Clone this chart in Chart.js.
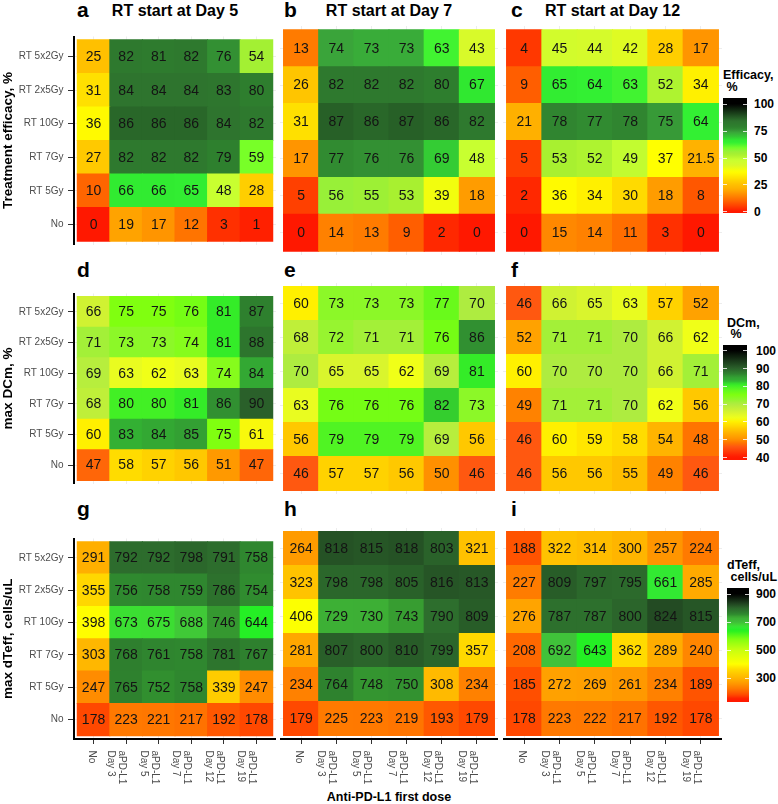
<!DOCTYPE html>
<html><head><meta charset="utf-8">
<script src="https://cdn.jsdelivr.net/npm/chart.js@4.4.0/dist/chart.umd.min.js"></script>
<style>
html,body{margin:0;padding:0;background:#fff;}
#wrap{position:relative;width:778px;height:804px;overflow:hidden;font-family:"Liberation Sans",Arial,sans-serif;}
canvas{position:absolute;}
.t{position:absolute;white-space:pre;color:#000;font-weight:bold;}
.bar,.tk{position:absolute;}
</style></head><body><div id="wrap"></div>
<script>
// ---------- data ----------
const rowLabels = ['RT 5x2Gy','RT 2x5Gy','RT 10Gy','RT 7Gy','RT 5Gy','No']; // top to bottom
const colLabels = [['No'],['aPD-L1','Day 3'],['aPD-L1','Day 5'],['aPD-L1','Day 7'],['aPD-L1','Day 12'],['aPD-L1','Day 19']];
const columnTitles = ['RT start at Day 5','RT start at Day 7','RT start at Day 12'];
const panelLetters = ['a','b','c','d','e','f','g','h','i'];
const metricTitles = ['Treatment efficacy, %','max DCm, %','max dTeff, cells/uL'];
const legendTitles = [['Efficacy,',' %'],['DCm,',' %'],['dTeff,',' cells/uL']];
const xAxisTitle = 'Anti-PD-L1 first dose';

const efficacyDay5  = [[25,82,81,82,76,54],[31,84,84,84,83,80],[36,86,86,86,84,82],[27,82,82,82,79,59],[10,66,66,65,48,28],[0,19,17,12,3,1]];
const efficacyDay7  = [[13,74,73,73,63,43],[26,82,82,82,80,67],[31,87,86,87,86,82],[17,77,76,76,69,48],[5,56,55,53,39,18],[0,14,13,9,2,0]];
const efficacyDay12 = [[4,45,44,42,28,17],[9,65,64,63,52,34],[21,78,77,78,75,64],[5,53,52,49,37,21.5],[2,36,34,30,18,8],[0,15,14,11,3,0]];
const dcmDay5  = [[66,75,75,76,81,87],[71,73,73,74,81,88],[69,63,62,63,74,84],[68,80,80,81,86,90],[60,83,84,85,75,61],[47,58,57,56,51,47]];
const dcmDay7  = [[60,73,73,73,77,70],[68,72,71,71,76,86],[70,65,65,62,69,81],[63,76,76,76,82,73],[56,79,79,79,69,56],[46,57,57,56,50,46]];
const dcmDay12 = [[46,66,65,63,57,52],[52,71,71,70,66,62],[60,70,70,70,66,71],[49,71,71,70,62,56],[46,60,59,58,54,48],[46,56,56,55,49,46]];
const dteffDay5  = [[291,792,792,798,791,758],[355,756,758,759,786,754],[398,673,675,688,746,644],[303,768,761,758,781,767],[247,765,752,758,339,247],[178,223,221,217,192,178]];
const dteffDay7  = [[264,818,815,818,803,321],[323,798,798,805,816,813],[406,729,730,743,790,809],[281,807,800,810,799,357],[234,764,748,750,308,234],[179,225,223,219,193,179]];
const dteffDay12 = [[188,322,314,300,257,224],[227,809,797,795,661,285],[276,787,787,800,824,815],[208,692,643,362,289,240],[185,272,269,261,234,189],[178,223,222,217,192,178]];

const efficacyTicks = [0,25,50,75,100];
const dcmTicks = [40,50,60,70,80,90,100];
const dteffTicks = [300,500,700,900];

// ---------- colour scales (styles) ----------
const efficacyStops = [[0,'#FF1800'],[3,'#FF3000'],[5,'#FF4000'],[9,'#FF5E00'],[12,'#FF7400'],[15,'#FF8800'],[18,'#FF9C00'],[21,'#FFB000'],[25,'#FFC000'],[28,'#FFCE00'],[31,'#FFE000'],[35,'#FFF500'],[37,'#FFFF00'],[43,'#D8FA2A'],[48,'#C8FF30'],[53,'#A8F030'],[56,'#98F038'],[59,'#78FF28'],[64,'#33F033'],[67,'#30E830'],[69,'#34CC34'],[74,'#3AA43A'],[76,'#339033'],[79,'#2E802E'],[84,'#2E742E'],[87,'#276027'],[100,'#000000']];
const dcmStops = [[40,'#FF1800'],[46,'#FF5810'],[48,'#FF7400'],[50,'#FF9000'],[52,'#FFA200'],[54,'#FFB400'],[56,'#FFC800'],[58,'#FFDC00'],[60,'#FFF000'],[62,'#F0FF18'],[64,'#E2F828'],[66,'#D0F232'],[70,'#AEEC40'],[73,'#8CF828'],[75,'#80FF10'],[78,'#5EF820'],[81,'#34EC28'],[83,'#33B033'],[85,'#33A033'],[87,'#2E802E'],[90,'#2A602A'],[100,'#000000']];
const dteffStops = [[150,'#FF1A00'],[178,'#FF4800'],[193,'#FF5800'],[208,'#FF6800'],[222,'#FF7800'],[240,'#FF8600'],[260,'#FF9800'],[275,'#FFA300'],[290,'#FFAE00'],[305,'#FFB800'],[322,'#FFC200'],[340,'#FFCD00'],[357,'#FFD800'],[364,'#FFDC00'],[400,'#FFFF00'],[500,'#C8FF10'],[580,'#80FF10'],[640,'#22F022'],[665,'#35E835'],[680,'#40D830'],[692,'#40C23A'],[730,'#3DAF35'],[745,'#369A30'],[755,'#2F8A2F'],[770,'#2E7D2E'],[790,'#2D6E2D'],[810,'#285C28'],[825,'#234A23'],[900,'#000000']];

function hex2rgb(h){return [parseInt(h.slice(1,3),16),parseInt(h.slice(3,5),16),parseInt(h.slice(5,7),16)];}
function makeScale(stops){
  const s = stops.map(([v,c])=>[v,hex2rgb(c)]);
  return v => {
    if (v <= s[0][0]) return 'rgb('+s[0][1].join(',')+')';
    if (v >= s[s.length-1][0]) return 'rgb('+s[s.length-1][1].join(',')+')';
    for (let i=1;i<s.length;i++){
      if (v <= s[i][0]){
        const t=(v-s[i-1][0])/(s[i][0]-s[i-1][0]);
        const c=s[i-1][1].map((a,k)=>Math.round(a+(s[i][1][k]-a)*t));
        return 'rgb('+c.join(',')+')';
      }
    }
  };
}
const efficacyColor = makeScale(efficacyStops);
const dcmColor = makeScale(dcmStops);
const dteffColor = makeScale(dteffStops);

// ---------- layout ----------
const FAMILY = '"Liberation Sans", Arial, sans-serif';
Chart.defaults.font.family = FAMILY;
const wrap = document.getElementById('wrap');
const colGeo = [{x:0,w:276,axis:74},{x:280,w:218,axis:0},{x:503,w:219,axis:0}];
const rowGeo = [{y:26,h:229,xaxis:0},{y:283,h:211,xaxis:0},{y:528,h:261,xaxis:50}];

function text(str, x, baseline, size, opts={}){
  const d = document.createElement('div');
  d.className='t';
  d.textContent = str;
  d.style.fontSize = size+'px';
  d.style.lineHeight = size+'px';
  d.style.top = (baseline - 0.8465*size)+'px';
  if (opts.center){ d.style.left=(x-200)+'px'; d.style.width='400px'; d.style.textAlign='center'; }
  else d.style.left = x+'px';
  wrap.appendChild(d);
  return d;
}

const cellLabels = {id:'cellLabels', afterDatasetsDraw(chart){
  const ctx = chart.ctx; ctx.save();
  ctx.font = '14px '+FAMILY; ctx.fillStyle = '#141414'; ctx.textAlign='center'; ctx.textBaseline='middle';
  const ds = chart.data.datasets[0];
  chart.getDatasetMeta(0).data.forEach((el,i)=>{
    const p = el.getCenterPoint();
    ctx.fillText(String(ds.data[i].v), p.x, p.y+0.5);
  });
  ctx.restore();
}};

const xTickLabels = {id:'xTickLabels', afterDraw(chart){
  const s = chart.scales.x, ctx = chart.ctx; ctx.save();
  ctx.font = '10px '+FAMILY; ctx.fillStyle = '#4d4d4d'; ctx.textAlign='left'; ctx.textBaseline='alphabetic';
  const top = chart.chartArea.bottom + 11.5;
  colLabels.forEach((lines,i)=>{
    const x = s.getPixelForValue(i);
    ctx.save(); ctx.translate(x, top); ctx.rotate(Math.PI/2);
    lines.forEach((ln,k)=> ctx.fillText(ln, 0, (lines.length===1?5:7) + k*11));
    ctx.restore();
  });
  ctx.restore();
}};

const idxTicks = s => { s.ticks = [0,1,2,3,4,5].map(v=>({value:v})); };

function panel(values, col, row, colorFn){
  const cg = colGeo[col], rg = rowGeo[row];
  const cv = document.createElement('canvas');
  cv.width = cg.w; cv.height = rg.h;
  cv.style.left = cg.x+'px'; cv.style.top = rg.y+'px';
  cv.style.width = cg.w+'px'; cv.style.height = rg.h+'px';
  wrap.appendChild(cv);
  const showY = cg.axis>0, showX = rg.xaxis>0;
  const data = [];
  values.forEach((rv,ri)=>rv.forEach((v,ci)=>{ const r = 5-ri; data.push({x:ci, y:[r-0.5, r+0.5], v}); }));
  new Chart(cv, {
    type:'bar',
    data:{datasets:[{data, backgroundColor: c => colorFn(c.raw.v), borderWidth:0, barPercentage:1, categoryPercentage:1, inflateAmount:0.5}]},
    options:{
      responsive:false, animation:false, events:[], devicePixelRatio:1,
      layout:{padding:0},
      plugins:{legend:{display:false}, tooltip:{enabled:false}, title:{display:false}},
      scales:{
        x:{type:'linear', min:-0.6, max:5.6, offset:false, afterBuildTicks: idxTicks,
           afterFit: s => { s.height = rg.xaxis; },
           ticks:{display:false},
           grid:{offset:false, color:'#ededed', lineWidth:1, drawTicks:showX, tickLength:5, tickColor:'#333', tickWidth:1},
           border:{display:showX, color:'#000', width:2}},
        y:{type:'linear', min:-0.6, max:5.6, afterBuildTicks: idxTicks,
           afterFit: s => { s.width = cg.axis; },
           ticks:{display:showY, callback: v => rowLabels[5-v], color:'#4d4d4d', font:{size:10, family:FAMILY}, padding:4.5, autoSkip:false},
           grid:{color:'#ededed', lineWidth:1, drawTicks:showY, tickLength:6, tickColor:'#333', tickWidth:1},
           border:{display:showY, color:'#000', width:2},
           title:{display:showY, text:metricTitles[row], color:'#000', font:{size:13.5, weight:'bold', family:FAMILY}, padding:0}}
      }
    },
    plugins: showX ? [cellLabels, xTickLabels] : [cellLabels]
  });
}

panel(efficacyDay5,0,0,efficacyColor); panel(efficacyDay7,1,0,efficacyColor); panel(efficacyDay12,2,0,efficacyColor);
panel(dcmDay5,0,1,dcmColor); panel(dcmDay7,1,1,dcmColor); panel(dcmDay12,2,1,dcmColor);
panel(dteffDay5,0,2,dteffColor); panel(dteffDay7,1,2,dteffColor); panel(dteffDay12,2,2,dteffColor);

// letters and titles
const letterX = [77,284,511];
const letterBase = [16.7,277,516];
panelLetters.forEach((l,i)=> text(l, letterX[i%3], letterBase[Math.floor(i/3)], 21));
const titleCenters = [175,389,612.5];
columnTitles.forEach((t,i)=> text(t, titleCenters[i], 16.7, 16, {center:true}));
text(xAxisTitle, 389, 802, 12.5, {center:true});

// legends
function legend(colorFn, ticks, g){
  const b = document.createElement('div'); b.className='bar';
  const H = g.yBot-g.yTop;
  const stops=[];
  for(let k=0;k<=60;k++){ const v = g.vTop-(g.vTop-g.vBot)*k/60; stops.push(colorFn(v)+' '+(k/60*100).toFixed(2)+'%'); }
  b.style.cssText = `left:${g.x0}px;top:${g.yTop}px;width:${g.x1-g.x0}px;height:${H}px;background:linear-gradient(to bottom,${stops.join(',')});`;
  wrap.appendChild(b);
  ticks.forEach(t=>{
    const y = g.yTop + (g.vTop-t)/(g.vTop-g.vBot)*H;
    text(String(t), g.lx, y+4.3, 12);
    [g.x0, g.x1-4].forEach(xx=>{ const m=document.createElement('div'); m.className='tk';
      m.style.cssText=`left:${xx}px;top:${y-0.5}px;width:4px;height:1px;background:rgba(255,255,255,0.8);`; wrap.appendChild(m); });
  });
  g.title.forEach((ln,k)=> text(ln, g.tx, g.tb[k], 12.5));
}
legend(efficacyColor, efficacyTicks, {x0:723,x1:747,yTop:98.3,yBot:213.3,vTop:105.6,vBot:-1.5,lx:754,tx:723,tb:[79.5,91.5],title:legendTitles[0]});
legend(dcmColor, dcmTicks, {x0:723,x1:747,yTop:345.3,yBot:460.3,vTop:103,vBot:38.5,lx:756,tx:727,tb:[327.5,339],title:legendTitles[1]});
legend(dteffColor, dteffTicks, {x0:726.5,x1:748.5,yTop:588.3,yBot:702.3,vTop:943,vBot:128.6,lx:756,tx:727,tb:[570,581.7],title:legendTitles[2]});
</script></body></html>
